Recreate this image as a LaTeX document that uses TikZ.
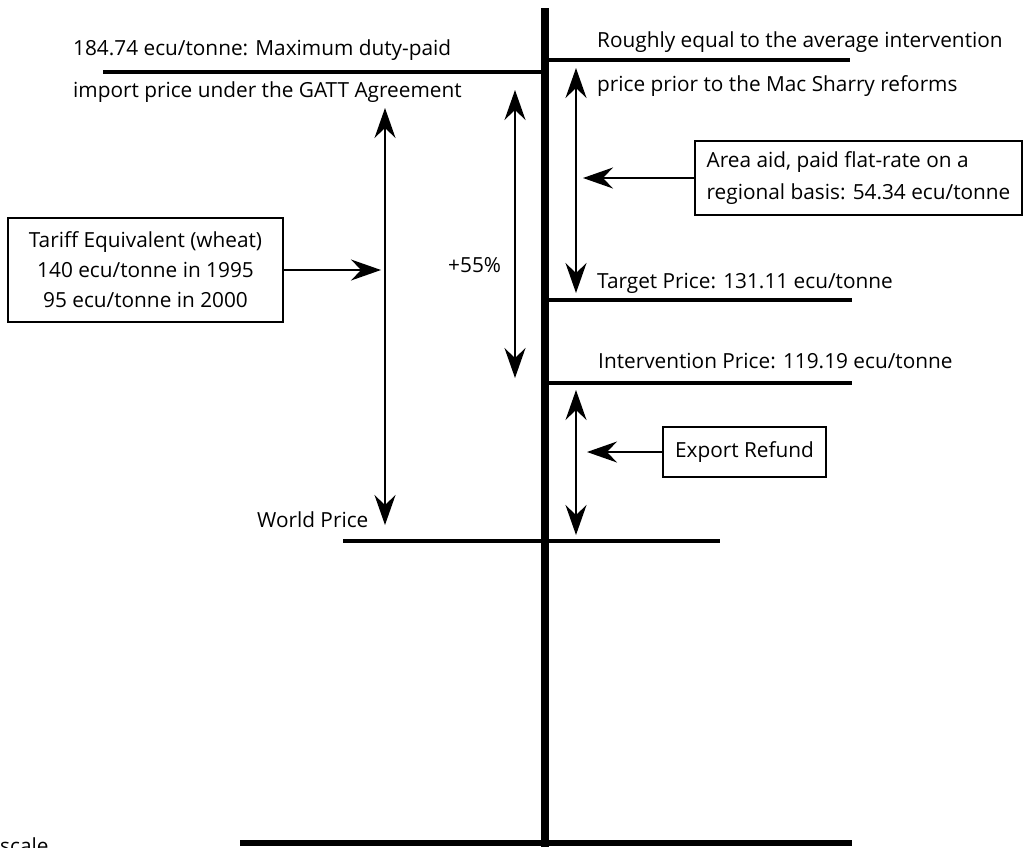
\documentclass[tikz,border=0pt]{standalone}
\usepackage{fontspec}
\setmainfont{Open Sans}
\usetikzlibrary{arrows.meta}
\begin{document}
\begin{tikzpicture}[x=1pt,y=-1pt,
  lbl/.style={inner sep=0pt, anchor=base west, font=\fontsize{20.8}{22}\selectfont},
  bar/.style={line width=4pt},
  tbox/.style={draw, line width=1.2pt, inner sep=0pt, align=center, font=\fontsize{20.8}{30}\selectfont},
  dbl/.style={line width=1.4pt, {Stealth[length=30pt,width=21pt,inset=10pt]}-{Stealth[length=30pt,width=21pt,inset=10pt]}},
  ptr/.style={line width=1.4pt, -{Stealth[length=30pt,width=21pt,inset=10pt]}}
]
\clip (0,0) rectangle (1028,847);
\fill[white] (0,0) rectangle (1028,847);

% main axis and price levels
\draw[line width=8pt] (545,8) -- (545,847);
\draw[line width=6pt] (240,843) -- (852,843);
\draw[bar] (103,72) -- (545,72);
\draw[bar] (545,60) -- (850,60);
\draw[bar] (545,300) -- (852,300);
\draw[bar] (545,383) -- (852,383);
\draw[bar] (343,541) -- (720,541);

% labels
\node[lbl] (gatt1) at (73,55) {184.74 ecu/tonne: Maximum duty-paid};
\node[lbl] (gatt2) at (73,97) {import price under the GATT Agreement};
\node[lbl] (rough1) at (597,47) {Roughly equal to the average intervention};
\node[lbl] (rough2) at (597,91) {price prior to the Mac Sharry reforms};
\node[lbl] (target) at (597,288) {Target Price: 131.11 ecu/tonne};
\node[lbl] (interv) at (598,368) {Intervention Price: 119.19 ecu/tonne};
\node[lbl] (world) at (257,527) {World Price};
\node[lbl] (pct) at (448,272) {+55\%};
\node[lbl] (scale) at (0,853) {scale};

% boxes
\node[tbox, minimum width=275pt, minimum height=104pt] (tariff) at (145.5,270)
  {Tariff Equivalent (wheat)\\140 ecu/tonne in 1995\\95 ecu/tonne in 2000};
\node[tbox, align=left, minimum width=327pt, minimum height=74pt, font=\fontsize{20.8}{32}\selectfont] (area) at (858.5,178)
  {Area aid, paid flat-rate on a\\regional basis: 54.34 ecu/tonne};
\node[tbox, minimum width=163pt, minimum height=50pt] (export) at (744.5,452) {Export Refund};

% arrow end points
\coordinate (tarT) at (385,108);
\coordinate (tarB) at (385,525);
\coordinate (pctT) at (515,90);
\coordinate (pctB) at (515,378);
\coordinate (areaT) at (576,68);
\coordinate (areaB) at (576,293);
\coordinate (expT) at (576,390);
\coordinate (expB) at (576,535);
\coordinate (tarP) at (381,270);
\coordinate (areaP) at (583,178);
\coordinate (expP) at (587,452);

\draw[dbl] (tarT) -- (tarB);
\draw[dbl] (pctT) -- (pctB);
\draw[dbl] (areaT) -- (areaB);
\draw[dbl] (expT) -- (expB);
\draw[ptr] (tariff.east) -- (tarP);
\draw[ptr] (area.west) -- (areaP);
\draw[ptr] (export.west) -- (expP);
\end{tikzpicture}
\end{document}
